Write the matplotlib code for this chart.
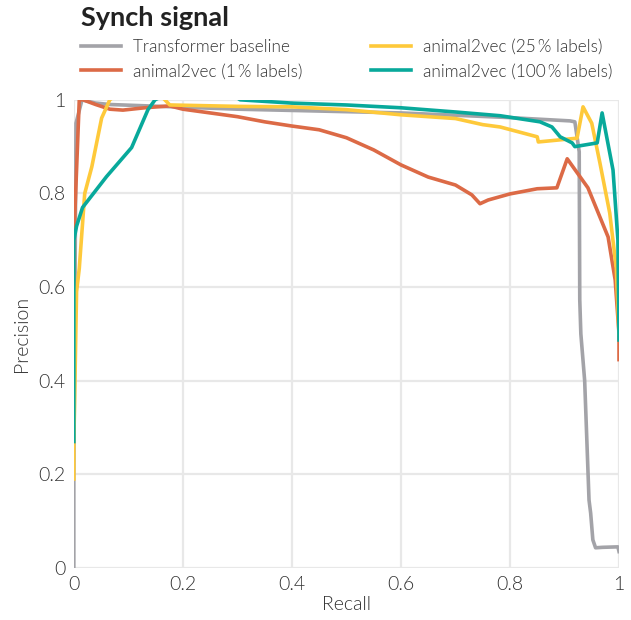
import matplotlib
matplotlib.use("Agg")
import matplotlib.pyplot as plt
from matplotlib.ticker import FuncFormatter

plt.rcParams["font.family"] = ["Lato", "DejaVu Sans"]
plt.rcParams["font.size"] = 12

# precision-recall curves (recall, precision)
base_recall = [0.0, 0.0, 0.004, 0.015, 0.04, 0.066, 0.3, 0.6, 0.8, 0.91, 0.919, 0.927,
               0.928, 0.930, 0.937, 0.945, 0.948, 0.952, 0.957, 0.97, 0.998, 1.0]
base_prec = [0.0, 0.19, 0.95, 1.0, 0.993, 0.99, 0.98, 0.972, 0.962, 0.955, 0.953, 0.889,
             0.573, 0.50, 0.40, 0.145, 0.117, 0.06, 0.043, 0.044, 0.045, 0.035]

a1_recall = [0.0, 0.0, 0.01, 0.017, 0.04, 0.066, 0.09, 0.13, 0.176, 0.2, 0.25, 0.3, 0.35,
             0.4, 0.45, 0.5, 0.55, 0.6, 0.65, 0.7, 0.73, 0.745, 0.76, 0.8, 0.85, 0.886,
             0.905, 0.943, 0.98, 0.993, 1.0, 1.0]
a1_prec = [0.44, 0.70, 1.0, 1.0, 0.99, 0.98, 0.978, 0.983, 0.987, 0.98, 0.972, 0.964, 0.953,
           0.944, 0.936, 0.919, 0.893, 0.861, 0.835, 0.818, 0.797, 0.778, 0.786, 0.799, 0.81,
           0.812, 0.874, 0.812, 0.707, 0.615, 0.50, 0.445]

a25_recall = [0.0, 0.0, 0.005, 0.01, 0.02, 0.033, 0.051, 0.066, 0.1, 0.15, 0.167, 0.176,
              0.3, 0.4, 0.5, 0.6, 0.7, 0.75, 0.782, 0.85, 0.852, 0.923, 0.934, 0.95, 0.965,
              0.983, 0.995, 1.0]
a25_prec = [0.19, 0.265, 0.59, 0.64, 0.80, 0.857, 0.961, 1.0, 1.03, 1.02, 1.0, 0.989,
            0.986, 0.985, 0.979, 0.968, 0.96, 0.947, 0.942, 0.921, 0.91, 0.918, 0.985, 0.95,
            0.865, 0.758, 0.64, 0.50]

a100_recall = [0.0, 0.0, 0.005, 0.016, 0.06, 0.106, 0.136, 0.149, 0.2, 0.28, 0.305, 0.4,
               0.5, 0.6, 0.7, 0.782, 0.855, 0.877, 0.892, 0.914, 0.919, 0.96, 0.969, 0.989,
               0.998, 1.0]
a100_prec = [0.27, 0.70, 0.73, 0.77, 0.836, 0.898, 0.979, 1.0, 1.03, 1.02, 1.0, 0.993,
             0.989, 0.983, 0.974, 0.966, 0.953, 0.942, 0.921, 0.908, 0.90, 0.908, 0.972, 0.85,
             0.70, 0.487]

series = [
    ("Transformer baseline", base_recall, base_prec, "#a3a3a8"),
    ("animal2vec (1\u2009% labels)", a1_recall, a1_prec, "#dc6a46"),
    ("animal2vec (25\u2009% labels)", a25_recall, a25_prec, "#fec93a"),
    ("animal2vec (100\u2009% labels)", a100_recall, a100_prec, "#08a99b"),
]

fig = plt.figure(figsize=(6.31, 6.20), dpi=100)
ax = fig.add_axes([0.117, 0.084, 0.864, 0.755])

for label, rec, prec, color in series:
    ax.plot(rec, prec, color=color, lw=2.6, label=label, solid_joinstyle="round")

ax.set_xlim(0, 1)
ax.set_ylim(0, 1)
ax.set_xticks([0, 0.2, 0.4, 0.6, 0.8, 1])
ax.set_yticks([0, 0.2, 0.4, 0.6, 0.8, 1])
fmt = FuncFormatter(lambda v, _: "%g" % round(v, 2))
ax.xaxis.set_major_formatter(fmt)
ax.yaxis.set_major_formatter(fmt)
ax.grid(True, color="#e8e8e8", lw=1.6)
ax.set_axisbelow(True)
for s in ax.spines.values():
    s.set_visible(False)
ax.tick_params(length=0, labelsize=14, colors="#333333", pad=6)
for t in ax.get_xticklabels() + ax.get_yticklabels():
    t.set_fontweight(300)
ax.set_xlabel("Recall", fontsize=14, color="#333333", labelpad=2, fontweight=300)
ax.set_ylabel("Precision", fontsize=14, color="#333333", labelpad=6, fontweight=300)

fig.text(0.129, 0.971, "Synch signal", fontsize=19.5, fontweight="bold",
         color="#222222", ha="left", va="center")
leg = fig.legend(loc="upper left", bbox_to_anchor=(0.104, 0.962), ncol=2, frameon=False,
                 fontsize=12.4, handlelength=2.3, handletextpad=0.7, columnspacing=4.0,
                 labelspacing=0.48, labelcolor="#333333")
for t in leg.get_texts():
    t.set_fontweight(300)

fig.savefig("out.png", dpi=100)
